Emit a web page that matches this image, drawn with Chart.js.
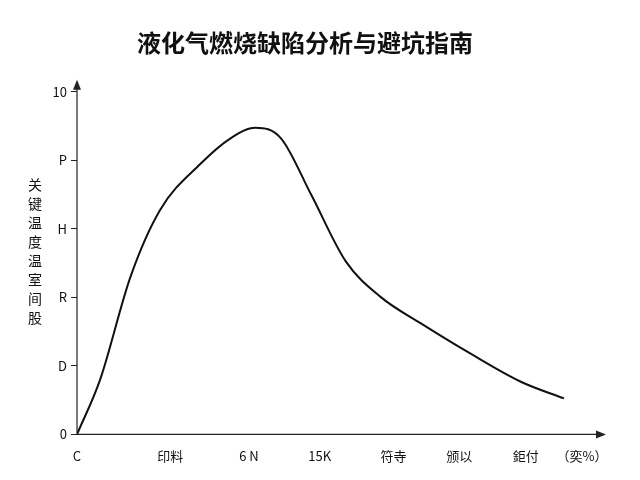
<!DOCTYPE html><html><head><meta charset="utf-8">
<script src="https://cdn.jsdelivr.net/npm/chart.js@4"></script>
<style>body{margin:0;background:#fff}#w{position:relative;width:640px;height:480px}</style></head><body><div id="w"><canvas id="c" width="640" height="480"></canvas></div>
<script>
const titleText='液化气燃烧缺陷分析与避坑指南';
const yTitle='关键温度温室间股';
const xTickVals=[0,1.29,2.38,3.36,4.38,5.29,6.21,6.99];
const xTickLabels=['C','印料','6 N','15K','符寺','颁以','鉅付','（奕%）'];
const yTickVals=[0,2,4,6,8,10];
const yTickLabels=['0','D','R','H','P','10'];
const curveX=[0,0.32,0.74,1.15,1.71,2.13,2.47,2.82,3.24,3.72,4.21,4.76,5.46,6.15,6.74];
const curveY=[0,1.6,4.6,6.55,7.9,8.65,8.95,8.65,7.0,5.05,4.0,3.24,2.34,1.53,1.05];
const arrows={id:'arrows',afterDraw(ch){const c=ch.ctx,a=ch.chartArea;c.save();c.strokeStyle='#222';c.fillStyle='#222';c.lineWidth=1.2;
c.beginPath();c.moveTo(a.left,a.bottom);c.lineTo(a.left,a.top-8);c.moveTo(a.left,a.bottom);c.lineTo(a.right+12,a.bottom);c.stroke();
c.beginPath();c.moveTo(a.left,a.top-12);c.lineTo(a.left-4,a.top-2);c.lineTo(a.left+4,a.top-2);c.fill();
c.beginPath();c.moveTo(a.right+16,a.bottom);c.lineTo(a.right+6,a.bottom-4);c.lineTo(a.right+6,a.bottom+4);c.fill();
c.font='14px "Noto Sans CJK SC"';c.textAlign='center';c.fillStyle='#111';
[...yTitle].forEach((ch2,i)=>c.fillText(ch2,35,190+i*19));c.restore();}};
new Chart(document.getElementById('c'),{type:'scatter',
data:{datasets:[{data:curveX.map((x,i)=>({x,y:curveY[i]})),showLine:true,borderColor:'#111',borderWidth:2,pointRadius:0,cubicInterpolationMode:'monotone'}]},
options:{responsive:false,animation:false,devicePixelRatio:1,layout:{padding:{left:20,right:50,top:0,bottom:10}},
plugins:{legend:{display:false},tooltip:{enabled:false},title:{display:true,text:titleText,font:{family:'"Noto Sans CJK SC"',size:24,weight:'bold'},color:'#111',padding:{top:28,bottom:35}}},
scales:{x:{type:'linear',min:0,max:7.1,afterBuildTicks(s){s.ticks=xTickVals.map(v=>({value:v}));},
ticks:{autoSkip:false,maxRotation:0,callback:(v,i)=>xTickLabels[i],color:'#111',font:{family:'"Noto Sans CJK SC"',size:13},padding:6},grid:{display:false},border:{display:false}},
y:{min:0,max:10,afterBuildTicks(s){s.ticks=yTickVals.map(v=>({value:v}));},
ticks:{callback:(v,i)=>yTickLabels[i],color:'#111',font:{family:'"Noto Sans CJK SC"',size:13},padding:4},
grid:{drawOnChartArea:false,tickLength:6,color:'#222'},border:{display:false},afterFit(s){s.width=57;}}}},
plugins:[arrows]});
</script></body></html>
